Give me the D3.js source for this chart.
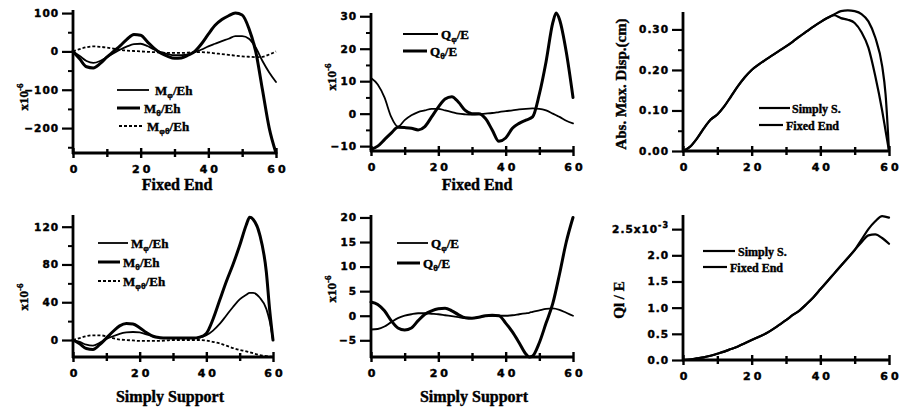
<!DOCTYPE html>
<html><head><meta charset="utf-8">
<script src="https://cdn.jsdelivr.net/npm/d3@7"></script>
<style>
html,body{margin:0;padding:0;background:#fff;}
svg{display:block;}
.tick text{font-family:"DejaVu Sans",Arial,sans-serif;font-weight:bold;fill:#000;stroke:#000;stroke-width:0.45px;}
.ya .tick text{font-size:10.5px;letter-spacing:1px;}
.xa .tick text{font-size:11px;letter-spacing:3px;}
.ser{font-family:"Liberation Serif","Times New Roman",serif;font-weight:bold;fill:#000;stroke:#000;stroke-width:0.4px;}
</style></head>
<body>
<svg id="c" width="901" height="407"></svg>
<script>
// ---------------- DATA ----------------
const xMajor = [0, 20, 40, 60];
const xMinor = [10, 30, 50];

// Panel 1: Fixed End moments (x10^-6)
const p1X = [0,2,4,6,8,10,12,14,16,18,20,22,24,26,28,30,32,34,36,38,40,42,44,46,48,50,52,54,56,58,60];
const p1Mphi = [0,-12,-25,-30,-25,-15,-5,5,13,19,20,14,5,-2,-7,-10,-10,-8,-2,5,13,20,27,33,40,40,33,10,-25,-55,-80];
const p1Mtheta = [0,-20,-40,-43,-32,-15,0,15,32,44,42,25,8,-5,-13,-18,-17,-10,0,20,45,68,83,93,100,95,60,0,-100,-200,-265];
const p1Mpt = [0,6,11,13,12,10,7,4,2,1,0,-1,-2,-3,-4,-4,-4,-3,-2,-2,-3,-5,-7,-9,-11,-13,-14,-15,-14,-8,0];
const p1YMajor = [100, 0, -100, -200];
const p1YMinor = [50, -50, -150, -250];

// Panel 2: Fixed End shear (x10^-6)
const p2X = [0,2,4,6,8,10,12,14,16,18,20,22,24,26,28,30,32,34,36,38,40,42,44,46,48,50,52,54,55,56,58,60];
const p2Qphi = [11,9,5,-1,-4,-2,-0.5,0.5,1,1.5,1.5,1,0.5,0,-0.2,-0.3,-0.2,0,0.2,0.5,0.8,1,1.3,1.5,1.6,1.5,1,0,-0.5,-1,-2.2,-3];
const p2Qtheta = [-11,-10,-8,-6,-4.2,-4.3,-4.5,-5,-4,-1,2,4.5,5.2,3.5,1,0,0,-1.5,-5,-8.5,-7.5,-4.5,-3,-2,-1,6,16,28,31,29,19,5];
const p2YMajor = [30, 20, 10, 0, -10];
const p2YMinor = [25, 15, 5, -5];

// Panel 3: Abs. Max. Disp. (cm)
const p3X = [0,2,4,6,8,10,12,14,16,18,20,22,24,26,28,30,32,34,36,38,40,42,44,46,48,50,52,54,56,58,59,60];
const p3Simply = [0,0.01,0.03,0.055,0.077,0.09,0.11,0.135,0.16,0.182,0.2,0.213,0.225,0.236,0.247,0.258,0.27,0.283,0.295,0.307,0.318,0.328,0.337,0.345,0.347,0.345,0.338,0.32,0.28,0.21,0.14,0];
const p3Fixed = [0,0.01,0.03,0.055,0.077,0.09,0.11,0.135,0.16,0.182,0.2,0.213,0.225,0.236,0.247,0.258,0.27,0.283,0.295,0.307,0.318,0.328,0.335,0.328,0.324,0.316,0.293,0.255,0.185,0.1,0.05,0];
const p3YMajor = [0.30, 0.20, 0.10, 0.00];
const p3YMinor = [0.25, 0.15, 0.05];

// Panel 4: Simply Support moments (x10^-6)
const p4X = [0,2,4,6,8,10,12,14,16,18,20,22,24,26,28,30,32,34,36,38,40,42,44,46,48,50,52,53,54,56,58,59,60];
const p4Mphi = [0,-2,-5,-6,-3,1,4,6.5,8,8.5,8,6,4,2.5,2,2,2,2,2,2.5,5,10,17,26,35,43,48,50,50,45,33,20,0];
const p4Mtheta = [0,-4,-9,-10,-5,2,9,15,17.5,17,13,8,4,2.5,2,2,2,2,2,3,7,22,42,62,80,100,122,130,128,112,72,32,0];
const p4Mpt = [0,2,4,5,5,4,2,0.5,0,-0.5,-1,-1,-1,-1,-0.5,0,0,0,0,0,-0.5,-2,-3.5,-6,-8.5,-10.5,-12,-13,-14,-16,-17,-17.5,-18];
const p4YMajor = [120, 80, 40, 0];
const p4YMinor = [100, 60, 20];

// Panel 5: Simply Support shear (x10^-6)
const p5X = [0,2,4,6,8,10,12,14,16,18,20,22,24,26,28,30,32,34,36,38,40,42,44,46,47,48,50,52,54,56,58,60];
const p5Qphi = [-2.8,-2.7,-2.2,-1.3,-0.5,0,0.3,0.5,0.5,0.4,0.3,0.1,-0.1,-0.3,-0.5,-0.5,-0.3,-0.1,0,0,0,0.1,0.3,0.5,0.6,0.8,1.1,1.4,1.5,1.2,0.6,0];
const p5Qtheta = [2.8,2.3,1,-1,-2.5,-2.9,-2.5,-1,0.3,1,1.4,1.5,1,0.2,-0.4,-0.5,-0.3,0,0.1,0,-1.5,-3.3,-5.5,-7.8,-8.4,-8.2,-5.5,-1.5,2.5,8.5,15,20];
const p5YMajor = [20, 15, 10, 5, 0, -5];

// Panel 6: Ql / E (x10^-3)
const p6X = [0,2,4,6,8,10,12,14,16,18,20,22,24,26,28,30,32,34,36,38,40,42,44,46,48,50,52,54,56,58,60];
const p6Simply = [0,0.01,0.03,0.05,0.08,0.12,0.16,0.21,0.26,0.32,0.38,0.44,0.5,0.58,0.67,0.76,0.86,0.95,1.07,1.2,1.35,1.5,1.65,1.8,1.95,2.1,2.3,2.5,2.65,2.75,2.72];
const p6Fixed = [0,0.01,0.03,0.05,0.08,0.12,0.16,0.21,0.26,0.32,0.38,0.44,0.5,0.58,0.67,0.76,0.86,0.95,1.07,1.2,1.35,1.5,1.65,1.8,1.95,2.1,2.25,2.38,2.4,2.33,2.22];
const p6YMajor = [2.5, 2.0, 1.5, 1.0, 0.5, 0.0];

// ---------------- DRAW ----------------
const svg = d3.select("#c");
const THICK = 3, THIN = 1.8;

function panel(cfg) {
  const g = svg.append("g");
  const x = d3.scaleLinear().domain([0, 60]).range([cfg.x0, cfg.x1]);
  const y = d3.scaleLinear().domain(cfg.yDom).range([cfg.yb, cfg.yt]);

  // y axis major
  const ya = g.append("g").attr("class", "ya").attr("transform", `translate(${cfg.x0},0)`)
    .call(d3.axisLeft(y).tickValues(cfg.yMajor).tickSize(11).tickSizeOuter(0).tickPadding(3).tickFormat(cfg.yFmt));
  ya.select(".domain").remove();
  ya.selectAll("line").attr("stroke", "#000").attr("stroke-width", 2.2);
  if (cfg.yMinor) {
    const ym = g.append("g").attr("transform", `translate(${cfg.x0},0)`)
      .call(d3.axisLeft(y).tickValues(cfg.yMinor).tickSize(5).tickFormat(""));
    ym.select(".domain").remove();
    ym.selectAll("line").attr("stroke", "#000").attr("stroke-width", 2);
  }
  // x axis
  const xa = g.append("g").attr("class", "xa").attr("transform", `translate(0,${cfg.yb})`)
    .call(d3.axisBottom(x).tickValues(xMajor).tickSize(5).tickSizeOuter(0).tickPadding(7).tickFormat(d3.format("d")));
  xa.select(".domain").remove();
  xa.selectAll("line").attr("stroke", "#000").attr("y1", -5).attr("y2", 5).attr("stroke-width", 2.4);
  xa.selectAll("text").attr("dx", 1.5);
  const xm = g.append("g").attr("transform", `translate(0,${cfg.yb})`)
    .call(d3.axisBottom(x).tickValues(xMinor).tickSize(4).tickFormat(""));
  xm.select(".domain").remove();
  xm.selectAll("line").attr("stroke", "#000").attr("y1", -4).attr("y2", 4).attr("stroke-width", 2.4);
  // axis lines
  g.append("line").attr("x1", cfg.x0).attr("x2", cfg.x0).attr("y1", cfg.yb + 1).attr("y2", cfg.yt)
    .attr("stroke", "#000").attr("stroke-width", 2.8);
  g.append("line").attr("x1", cfg.x0 - 1).attr("x2", cfg.x1 + 1).attr("y1", cfg.yb).attr("y2", cfg.yb)
    .attr("stroke", "#000").attr("stroke-width", 2.8);

  // series
  cfg.series.forEach(s => {
    const line = d3.line().x((d, i) => x(cfg.xs[i])).y(d => y(d)).curve(d3.curveMonotoneX);
    g.append("path").attr("d", line(s.values)).attr("fill", "none").attr("stroke", "#000")
      .attr("stroke-width", s.w).attr("stroke-dasharray", s.dash || null)
      .attr("stroke-linejoin", "round").attr("stroke-linecap", s.dash ? "butt" : "round");
  });

  // legend
  cfg.series.forEach((s, i) => {
    const L = cfg.legend[i];
    g.append("line").attr("x1", L.lx0).attr("x2", L.lx1).attr("y1", L.y).attr("y2", L.y)
      .attr("stroke", "#000").attr("stroke-width", s.w).attr("stroke-dasharray", s.dash || null);
    const t = g.append("text").attr("class", "ser").attr("x", L.tx).attr("y", L.y + 4.5).attr("font-size", cfg.legFs || 13);
    s.label.forEach(p => {
      const ts = t.append("tspan").text(p.t);
      if (p.sub) ts.attr("font-size", 9).attr("dy", 3);
      else if (p.after) ts.attr("dy", -3);
    });
  });

  // title
  if (cfg.title) {
    g.append("text").attr("class", "ser").attr("x", cfg.title.x).attr("y", cfg.title.y)
      .attr("text-anchor", "middle").attr("font-size", 16).text(cfg.title.t);
  }
  // y label
  const yl = g.append("text").attr("class", "ser").attr("text-anchor", "middle")
    .attr("transform", `translate(${cfg.ylab.x},${cfg.ylab.y}) rotate(-90)`).attr("font-size", cfg.ylab.fs || 13);
  cfg.ylab.parts.forEach(p => {
    const ts = yl.append("tspan").text(p.t);
    if (p.sup) ts.attr("font-size", 9).attr("dy", -5);
  });
  return { x, y, g };
}

const lab = (a, sub, b) => [{ t: a }, { t: sub, sub: true }, { t: b, after: true }];
const x10 = [{ t: "x10" }, { t: "-6", sup: true }];
const f0 = d3.format("d");

panel({
  x0: 73, x1: 276, yb: 153, yt: 10, yDom: [-265, 108], xs: p1X,
  yMajor: p1YMajor, yMinor: p1YMinor, yFmt: f0,
  series: [
    { values: p1Mphi, w: THIN, label: lab("M", "φ", "/Eh") },
    { values: p1Mtheta, w: THICK, label: lab("M", "θ", "/Eh") },
    { values: p1Mpt, w: THIN, dash: "3,2", label: lab("M", "φθ", "/Eh") }
  ],
  legend: [{ lx0: 117, lx1: 149, tx: 155, y: 90 }, { lx0: 117, lx1: 140, tx: 144, y: 108 }, { lx0: 119, lx1: 143, tx: 147, y: 126 }],
  title: { t: "Fixed End", x: 177, y: 190 },
  ylab: { x: 28, y: 97, parts: x10 }
});

panel({
  x0: 371, x1: 573, yb: 151, yt: 13, yDom: [-11.5, 31], xs: p2X,
  yMajor: p2YMajor, yMinor: p2YMinor, yFmt: f0,
  series: [
    { values: p2Qphi, w: THIN, label: lab("Q", "φ", "/E") },
    { values: p2Qtheta, w: THICK, label: lab("Q", "θ", "/E") }
  ],
  legend: [{ lx0: 403, lx1: 438, tx: 441, y: 34 }, { lx0: 403, lx1: 427, tx: 430, y: 51 }],
  title: { t: "Fixed End", x: 477, y: 190 },
  ylab: { x: 336, y: 77, parts: x10 }
});

panel({
  x0: 683, x1: 889, yb: 151, yt: 12, yDom: [0, 0.343], xs: p3X,
  yMajor: p3YMajor, yMinor: p3YMinor, yFmt: d3.format(".2f"), legFs: 12,
  series: [
    { values: p3Simply, w: 2.2, label: [{ t: "Simply S." }] },
    { values: p3Fixed, w: 2.2, label: [{ t: "Fixed End" }] }
  ],
  legend: [{ lx0: 759, lx1: 790, tx: 792, y: 108 }, { lx0: 759, lx1: 783, tx: 786, y: 125 }],
  ylab: { x: 626, y: 84, fs: 15, parts: [{ t: "Abs. Max. Disp.(cm)" }] }
});

panel({
  x0: 73, x1: 273, yb: 357, yt: 215, yDom: [-18, 132.4], xs: p4X,
  yMajor: p4YMajor, yMinor: p4YMinor, yFmt: f0,
  series: [
    { values: p4Mphi, w: THIN, label: lab("M", "φ", "/Eh") },
    { values: p4Mtheta, w: THICK, label: lab("M", "θ", "/Eh") },
    { values: p4Mpt, w: THIN, dash: "3,2", label: lab("M", "φθ", "/Eh") }
  ],
  legend: [{ lx0: 98, lx1: 128, tx: 131, y: 243 }, { lx0: 98, lx1: 120, tx: 123, y: 262 }, { lx0: 98, lx1: 120, tx: 123, y: 281 }],
  title: { t: "Simply Support", x: 170, y: 402 },
  ylab: { x: 28, y: 297, parts: x10 }
});

panel({
  x0: 371, x1: 573, yb: 357, yt: 215, yDom: [-8.4, 20.5], xs: p5X,
  yMajor: p5YMajor, yFmt: f0,
  series: [
    { values: p5Qphi, w: THIN, label: lab("Q", "φ", "/E") },
    { values: p5Qtheta, w: THICK, label: lab("Q", "θ", "/E") }
  ],
  legend: [{ lx0: 397, lx1: 428, tx: 431, y: 243 }, { lx0: 397, lx1: 420, tx: 423, y: 263 }],
  title: { t: "Simply Support", x: 474, y: 402 },
  ylab: { x: 336, y: 289, parts: x10 }
});

panel({
  x0: 683, x1: 889, yb: 360, yt: 215, yDom: [0, 2.77], xs: p6X,
  yMajor: p6YMajor, yFmt: d => d === 2.5 ? "2.5x10" : d3.format(".1f")(d), legFs: 12,
  series: [
    { values: p6Simply, w: 2.2, label: [{ t: "Simply S." }] },
    { values: p6Fixed, w: 2.2, label: [{ t: "Fixed End" }] }
  ],
  legend: [{ lx0: 703, lx1: 735, tx: 738, y: 251 }, { lx0: 703, lx1: 727, tx: 730, y: 267 }],
  ylab: { x: 624, y: 300, fs: 15, parts: [{ t: "Ql / E" }] }
});
// superscript on 2.5x10^-3 label
svg.selectAll(".tick text").filter(function () { return d3.select(this).text() === "2.5x10"; })
  .each(function () {
    const t = d3.select(this);
    t.append("tspan").attr("font-size", 8).attr("dy", "-0.6em").text("-3");
  });
</script>
</body></html>
